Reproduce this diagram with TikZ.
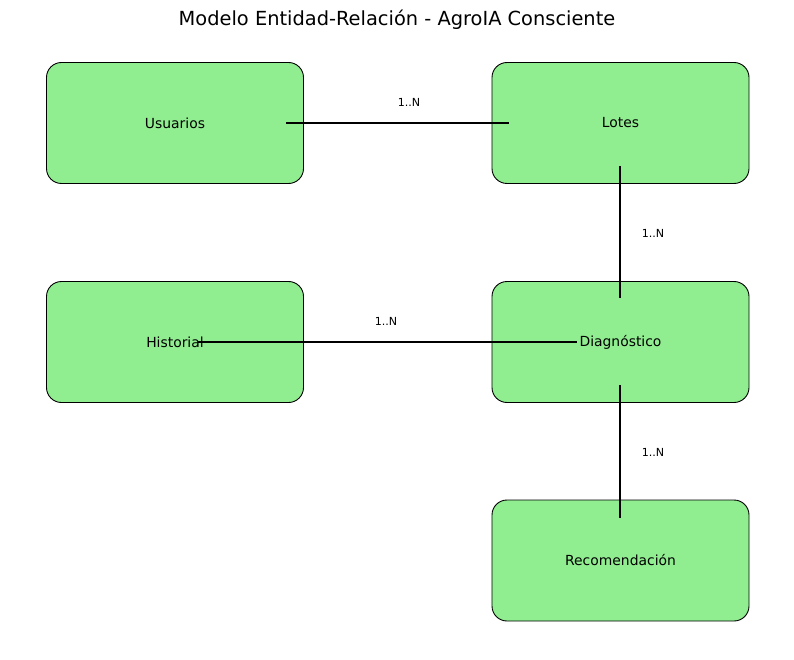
\documentclass[tikz,border=0pt]{standalone}
\usepackage{fontspec}
\setmainfont{DejaVu Sans}
\definecolor{boxgreen}{HTML}{90EE90}
\begin{document}
\begin{tikzpicture}[x=1pt,y=-1pt,
  entity/.style={draw=black, line width=0.9pt, fill=boxgreen, rounded corners=15pt,
    minimum width=257pt, minimum height=121pt, inner sep=0pt},
  elabel/.style={font=\fontsize{13.9pt}{16pt}\selectfont, inner sep=0pt, anchor=center},
  card/.style={font=\fontsize{11.1pt}{13pt}\selectfont, inner sep=0pt},
  rel/.style={line width=1.5pt}]
\useasboundingbox (0,0) rectangle (794,660);
\node[font=\fontsize{19.4pt}{22pt}\selectfont, inner sep=0pt] (title) at (397,20) {Modelo Entidad-Relación - AgroIA Consciente};
% boxes
\node[entity] (usuarios) at (175,123) {};
\node[entity] (lotes) at (620.5,123) {};
\node[entity] (historial) at (175,342) {};
\node[entity] (diag) at (620.5,342) {};
\node[entity] (recom) at (620.5,560.5) {};
% labels
\node[elabel] (tu) at (usuarios.center) {Usuarios};
\node[elabel] (tl) at (lotes.center) {Lotes};
\node[elabel] (th) at (historial.center) {Historial};
\node[elabel] (td) at (diag.center) {Diagnóstico};
\node[elabel] (tr) at (recom.center) {Recomendación};
% line ends
\coordinate (uE) at (286,123);
\coordinate (lW) at (509,123);
\coordinate (lS) at (620,166);
\coordinate (dN) at (620,298);
\coordinate (hE) at (198,342);
\coordinate (dW) at (577,342);
\coordinate (dS) at (620,385);
\coordinate (rN) at (620,518);
\draw[rel] (uE) -- (lW);
\draw[rel] (lS) -- (dN);
\draw[rel] (hE) -- (dW);
\draw[rel] (dS) -- (rN);
% cardinalities
\node[card] (c1) at (409,102) {1..N};
\node[card] (c2) at (653,233) {1..N};
\node[card] (c3) at (386,321) {1..N};
\node[card] (c4) at (653,452) {1..N};
\end{tikzpicture}
\end{document}
